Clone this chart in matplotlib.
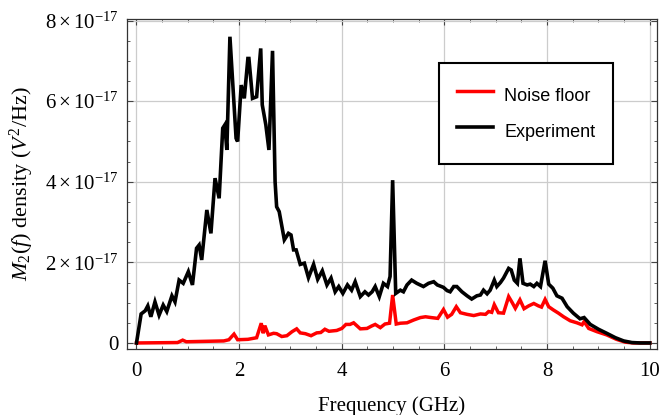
import matplotlib
matplotlib.use('Agg')
import matplotlib.pyplot as plt
from matplotlib.ticker import FixedLocator, FuncFormatter

# readings, frequency in GHz, density in units of 1e-17 V^2/Hz
exp_freq = [0.00, 0.09, 0.17, 0.22, 0.28, 0.36, 0.44, 0.52, 0.59, 0.69, 0.75, 0.83, 0.91, 1.01, 1.09,
            1.17, 1.22, 1.27, 1.37, 1.45, 1.53, 1.61, 1.68, 1.72, 1.76, 1.82, 1.94, 1.97, 2.04, 2.10,
            2.17, 2.19, 2.26, 2.34, 2.42, 2.45, 2.52, 2.58, 2.65, 2.70, 2.73, 2.78, 2.88, 2.96, 3.01,
            3.06, 3.11, 3.19, 3.27, 3.35, 3.45, 3.53, 3.62, 3.71, 3.79, 3.87, 3.94, 4.02, 4.11, 4.19,
            4.26, 4.36, 4.45, 4.52, 4.59, 4.65, 4.73, 4.81, 4.89, 4.94, 4.99, 5.05, 5.14, 5.20, 5.27,
            5.36, 5.46, 5.59, 5.69, 5.79, 5.86, 5.98, 6.05, 6.11, 6.18, 6.24, 6.34, 6.44, 6.53, 6.63,
            6.70, 6.76, 6.83, 6.89, 6.97, 7.02, 7.09, 7.15, 7.25, 7.30, 7.36, 7.42, 7.47, 7.53, 7.61,
            7.67, 7.74, 7.80, 7.87, 7.96, 8.03, 8.11, 8.19, 8.29, 8.39, 8.51, 8.64, 8.72, 8.84, 9.00,
            9.16, 9.33, 9.49, 9.65, 9.81, 10.0]
exp_val = [0.00, 0.72, 0.80, 0.92, 0.65, 1.02, 0.69, 0.94, 0.78, 1.17, 1.02, 1.56, 1.48, 1.77, 1.44,
           2.35, 2.43, 2.06, 3.30, 2.72, 4.09, 3.59, 5.33, 5.41, 4.79, 7.60, 5.08, 5.00, 6.40, 6.07,
           7.06, 7.06, 6.07, 6.11, 7.31, 5.91, 5.41, 4.79, 7.25, 4.00, 3.38, 3.26, 2.56, 2.72, 2.68,
           2.31, 2.31, 1.95, 1.98, 1.62, 1.95, 1.58, 1.79, 1.44, 1.61, 1.27, 1.40, 1.23, 1.44, 1.31,
           1.52, 1.15, 1.27, 1.19, 1.27, 1.40, 1.15, 1.48, 1.40, 1.65, 4.04, 1.23, 1.31, 1.27, 1.44,
           1.56, 1.48, 1.40, 1.48, 1.52, 1.44, 1.38, 1.30, 1.27, 1.40, 1.40, 1.27, 1.17, 1.09, 1.17,
           1.19, 1.31, 1.22, 1.31, 1.56, 1.40, 1.50, 1.61, 1.85, 1.81, 1.56, 1.48, 2.10, 1.48, 1.44,
           1.46, 1.40, 1.48, 1.40, 2.04, 1.46, 1.36, 1.17, 1.11, 0.90, 0.74, 0.60, 0.63, 0.46, 0.34,
           0.24, 0.13, 0.05, 0.01, 0.00, 0.00]

noise_freq = [0.00, 0.80, 0.90, 0.97, 1.70, 1.80, 1.90, 1.97, 2.17, 2.34, 2.43, 2.47, 2.50, 2.57, 2.67,
              2.73, 2.83, 2.93, 3.03, 3.12, 3.19, 3.29, 3.40, 3.51, 3.59, 3.67, 3.75, 3.90, 4.00, 4.08,
              4.16, 4.23, 4.36, 4.49, 4.58, 4.65, 4.75, 4.84, 4.93, 4.99, 5.06, 5.14, 5.27, 5.40, 5.53,
              5.63, 5.74, 5.87, 5.98, 6.06, 6.14, 6.23, 6.31, 6.44, 6.57, 6.70, 6.80, 6.86, 6.92, 6.97,
              7.05, 7.15, 7.25, 7.32, 7.38, 7.47, 7.55, 7.64, 7.74, 7.83, 7.89, 7.96, 8.03, 8.12, 8.22,
              8.32, 8.45, 8.58, 8.68, 8.72, 8.81, 8.97, 9.16, 9.35, 9.52, 9.68, 10.0]
noise_val = [0.00, 0.01, 0.07, 0.03, 0.05, 0.08, 0.22, 0.08, 0.09, 0.13, 0.49, 0.24, 0.43, 0.20, 0.24,
             0.23, 0.16, 0.18, 0.28, 0.35, 0.25, 0.23, 0.18, 0.25, 0.26, 0.34, 0.29, 0.31, 0.36, 0.46,
             0.46, 0.50, 0.35, 0.36, 0.42, 0.46, 0.38, 0.47, 0.49, 1.19, 0.47, 0.49, 0.50, 0.57, 0.63,
             0.65, 0.63, 0.61, 0.83, 0.64, 0.71, 0.90, 0.75, 0.71, 0.68, 0.72, 0.71, 0.78, 0.76, 0.95,
             0.75, 0.74, 1.15, 1.00, 0.86, 1.07, 0.85, 0.92, 0.98, 0.92, 0.89, 1.08, 0.90, 0.82, 0.74,
             0.65, 0.55, 0.50, 0.45, 0.53, 0.36, 0.28, 0.20, 0.09, 0.02, 0.00, 0.00]

x_ticks = [0, 2, 4, 6, 8, 10]
y_ticks = [0, 2, 4, 6, 8]
scale = 1e-17

plt.rcParams['font.family'] = ['Liberation Serif', 'DejaVu Serif']
plt.rcParams['mathtext.fontset'] = 'custom'
plt.rcParams['mathtext.rm'] = 'Liberation Serif'
plt.rcParams['mathtext.it'] = 'Liberation Serif:italic'
plt.rcParams['mathtext.bf'] = 'Liberation Serif:bold'

fig = plt.figure(figsize=(6.6, 4.15), dpi=100)
ax = fig.add_axes([127 / 660, 1 - 349 / 415, 530 / 660, 330 / 415])

ax.plot(noise_freq, [v * scale for v in noise_val], color='#ff0000', lw=2.5, label='Noise floor',
        solid_joinstyle='miter')
ax.plot(exp_freq, [v * scale for v in exp_val], color='black', lw=2.6, label='Experiment',
        solid_joinstyle='miter')

ax.set_xlim(-0.185, 10.14)
ax.set_ylim(-0.15e-17, 8.04e-17)

ax.xaxis.set_major_locator(FixedLocator(x_ticks))
ax.xaxis.set_minor_locator(FixedLocator([i * 0.5 for i in range(21)]))
ax.yaxis.set_major_locator(FixedLocator([t * scale for t in y_ticks]))
ax.yaxis.set_minor_locator(FixedLocator([i * 0.5 * scale for i in range(17)]))


def ylab(v, pos):
    n = int(round(v / scale))
    if n == 0:
        return '0'
    return r'$%d\times10^{-17}$' % n


ax.yaxis.set_major_formatter(FuncFormatter(ylab))
ax.xaxis.set_major_formatter(FuncFormatter(lambda v, p: '%d' % round(v)))

ax.tick_params(which='both', direction='in', top=True, right=True, labelsize=15, color='#444444')
ax.tick_params(which='major', length=4, width=0.8)
ax.tick_params(which='minor', length=2.5, width=0.6)
ax.tick_params(axis='x', pad=9)
ax.tick_params(axis='y', pad=6)

for s in ax.spines.values():
    s.set_color('#333333')
    s.set_linewidth(0.9)

ax.grid(True, which='major', color='#cccccc', lw=0.9)
ax.set_axisbelow(True)

ax.set_xlabel('Frequency (GHz)', fontsize=15, labelpad=11)
ax.set_ylabel(r'$M_2(f)$ density ($V^2$/Hz)', fontsize=16)
ax.yaxis.set_label_coords(-0.172, 0.5)

leg = ax.legend(loc='upper left', bbox_to_anchor=(439 / 660, 1 - 63 / 415),
                bbox_transform=fig.transFigure, borderaxespad=0, fancybox=False,
                framealpha=1, edgecolor='black', handlelength=2.0, handletextpad=0.6,
                handleheight=2.05, labelspacing=0.42, borderpad=1.0,
                prop={'family': 'Liberation Sans', 'size': 13})
leg.get_frame().set_linewidth(1.5)

fig.savefig('out.png', dpi=100)
